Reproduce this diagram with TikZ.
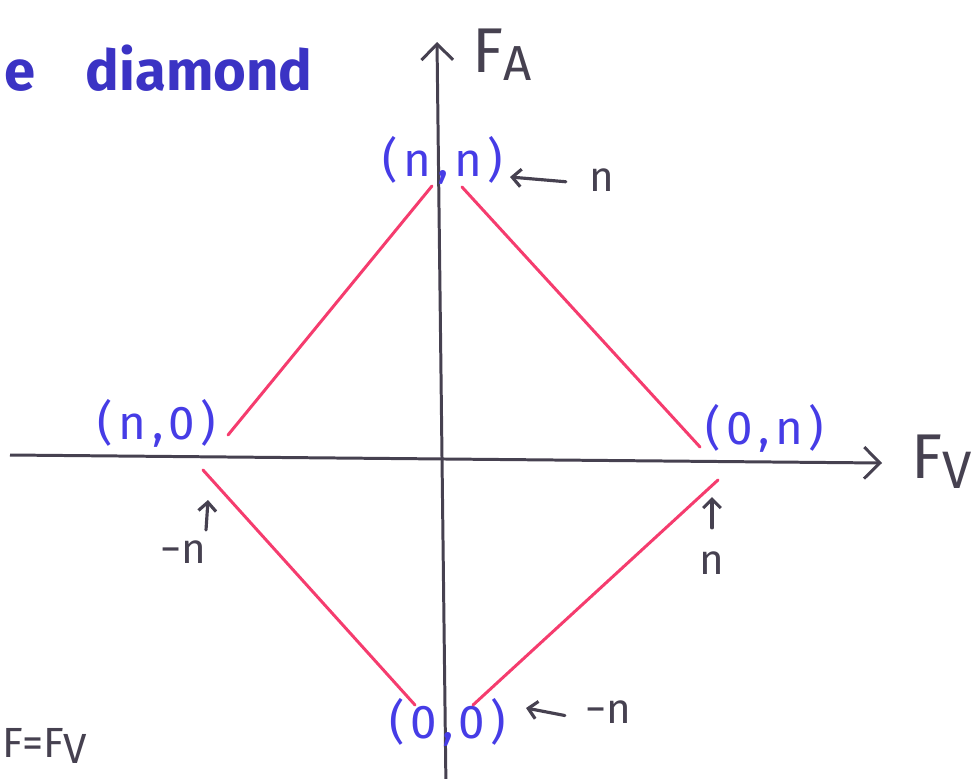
\documentclass[tikz,border=0pt]{standalone}
\usepackage{fontspec}
\setmainfont{Fira Sans}
\usetikzlibrary{positioning, arrows.meta}

\definecolor{inkblue}{RGB}{70,60,230}
\definecolor{inkpink}{RGB}{245,60,110}
\definecolor{inkgray}{RGB}{70,65,80}

\begin{document}
\begin{tikzpicture}[x=0.02cm, y=-0.02cm,
  axis/.style={line width=1.7pt, draw=inkgray,
               -{Straight Barb[length=9pt, width=18pt, line width=1.7pt]}},
  edge/.style={line width=1.7pt, draw=inkpink, line cap=round},
  pt/.style={font=\fontsize{27}{30}\selectfont\addfontfeatures{LetterSpace=12}, text=inkblue},
  note/.style={font=\fontsize{24}{28}\selectfont, text=inkgray},
  axlbl/.style={font=\fontsize{36}{40}\selectfont, text=inkgray},
  arr/.style={-{Straight Barb[length=5pt, width=10pt, line width=1.8pt]},
              line width=1.8pt, draw=inkgray, line cap=round},
  title/.style={font=\fontsize{32}{36}\selectfont\bfseries, text=inkblue!85!black},
]
\useasboundingbox (0,0) rectangle (980,778);

% Axes
\coordinate (xl) at (10,455);
\coordinate (xr) at (882,463);
\coordinate (yb) at (446,790);
\coordinate (yt) at (437,42);
\draw[axis] (xl) -- (xr);
\draw[axis] (yb) -- (yt);
\node[axlbl, anchor=west] (fv) at (905,462) {F\raisebox{-0.3ex}{\fontsize{30}{32}\selectfont V}};
\node[axlbl, anchor=west] (fa) at (466,55) {F\raisebox{-0.25ex}{\fontsize{28}{30}\selectfont A}};

% Corner labels
\node[pt] (nn) at (443,160) {(n,n)};
\node[pt] (no) at (157,423) {(n,0)};
\node[pt] (on) at (765,428) {(0,n)};
\node[pt] (oo) at (448,722) {(0,0)};

% Diamond sides
\coordinate (ul1) at (228,435);
\coordinate (ul2) at (432,186);
\coordinate (ur1) at (462,187);
\coordinate (ur2) at (700,447);
\coordinate (ll1) at (203,470);
\coordinate (ll2) at (415,705);
\coordinate (lr1) at (473,705);
\coordinate (lr2) at (718,480);
\draw[edge] (ul1) -- (ul2);
\draw[edge] (ur1) -- (ur2);
\draw[edge] (ll1) -- (ll2);
\draw[edge] (lr1) -- (lr2);

% Value notes
\node[note] (topn) at (602,180) {n};
\coordinate (topt) at (510,177);
\draw[arr] ([xshift=-10pt, yshift=-1pt]topn.west) -- (topt);

\node[note] (botn) at (608,712) {−n};
\coordinate (bott) at (526,708);
\draw[arr] ([xshift=-8pt, yshift=-2pt]botn.west) -- (bott);

\node[note] (leftn) at (183,552) {−n};
\coordinate (leftb) at (206,530);
\coordinate (leftt) at (208,500);
\draw[arr] (leftb) -- (leftt);

\node[note] (rightn) at (712,563) {n};
\coordinate (rightt) at (712,497);
\draw[arr] ([yshift=10pt]rightn.north) -- (rightt);

% Texts at the edges
\node[title, anchor=west] (ttl) at (-2,68) {e\hspace{0.9em}diamond};
\node[note, anchor=west] (eqn) at (-4,746) {F=F\raisebox{-0.25ex}{V}};

\end{tikzpicture}
\end{document}
